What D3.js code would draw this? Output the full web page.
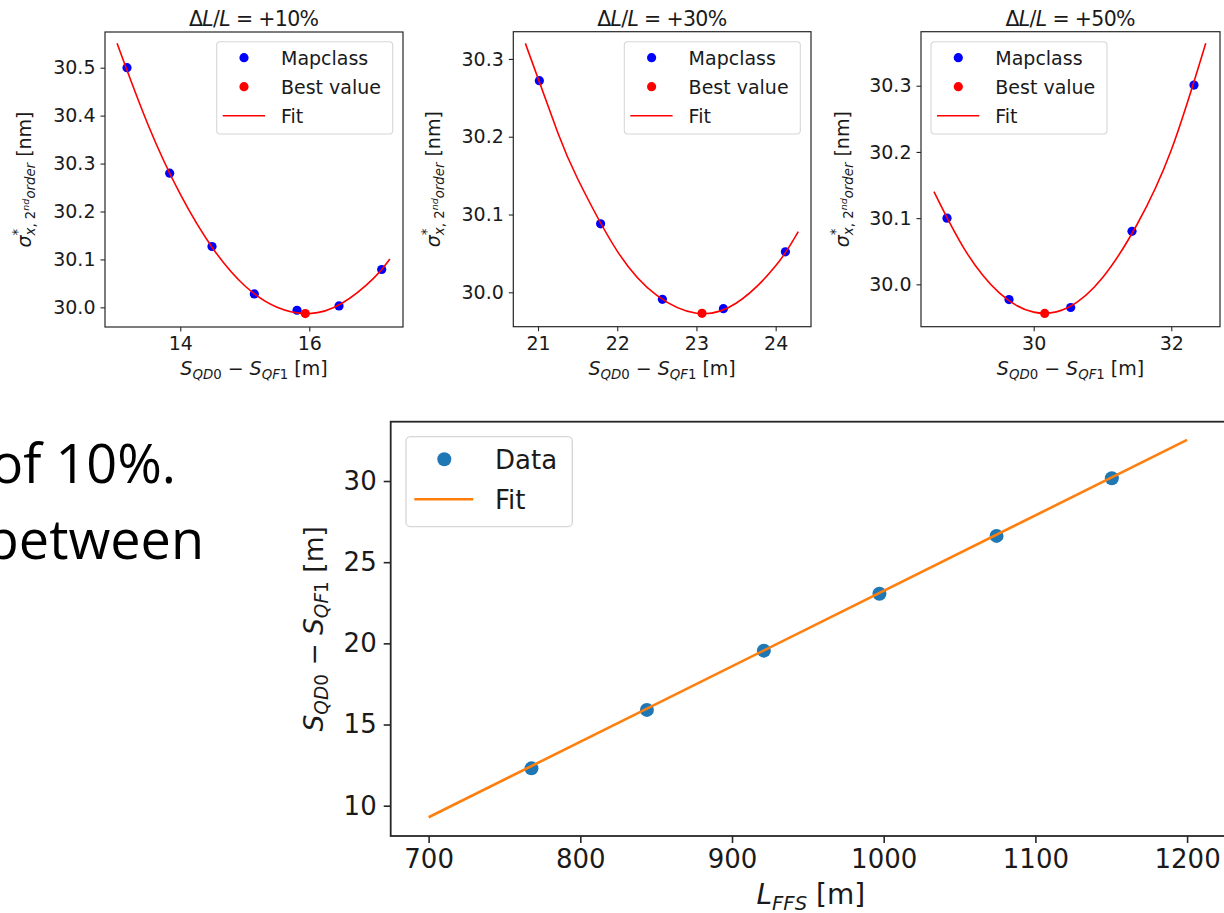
<!DOCTYPE html>
<html><head><meta charset="utf-8">
<script src="https://cdn.jsdelivr.net/npm/d3@7"></script>
<style>html,body{margin:0;padding:0;background:#fff;overflow:hidden}svg{display:block}</style>
</head><body>
<svg id="c" width="1224" height="913"></svg>
<script>
// ---------- data ----------
const titles = ["+10%", "+30%", "+50%"];

const p1X = [13.174, 13.836, 14.492, 15.148, 15.81, 16.461, 17.123];
const p1Y = [30.500, 30.280, 30.127, 30.028, 29.994, 30.003, 30.079];
const p1Best = [15.938, 29.987];
const p1FitX = [13.02, 13.5, 14.0, 14.5, 15.0, 15.5, 16.0, 16.5, 17.0, 17.25];
const p1FitY = [30.551, 30.381, 30.236, 30.124, 30.045, 30.000, 29.987, 30.008, 30.061, 30.101];
const p1XTicks = [14, 16];
const p1YTicks = [30.0, 30.1, 30.2, 30.3, 30.4, 30.5];

const p2X = [21.017, 21.79, 22.57, 23.34, 24.123];
const p2Y = [30.272, 30.088, 29.991, 29.979, 30.052];
const p2Best = [23.07, 29.973];
const p2FitX = [20.84, 21.25, 21.5, 22.0, 22.5, 23.0, 23.5, 24.0, 24.285];
const p2FitY = [30.320, 30.205, 30.146, 30.053, 29.996, 29.973, 29.986, 30.034, 30.078];
const p2XTicks = [21, 22, 23, 24];
const p2YTicks = [30.0, 30.1, 30.2, 30.3];

const p3X = [28.74, 29.641, 30.538, 31.429, 32.33];
const p3Y = [30.100, 29.977, 29.965, 30.080, 30.301];
const p3Best = [30.16, 29.956];
const p3FitX = [28.55, 29.0, 29.5, 30.0, 30.5, 31.0, 31.5, 32.0, 32.5];
const p3FitY = [30.140, 30.052, 29.987, 29.958, 29.965, 30.010, 30.090, 30.203, 30.364];
const p3XTicks = [30, 32];
const p3YTicks = [30.0, 30.1, 30.2, 30.3];

const lffs = [767.8, 843.9, 921, 997.2, 1074.4, 1150.4];
const sDiff = [12.30, 15.90, 19.55, 23.06, 26.62, 30.17];
const fitL = [700, 1200];
const fitS = [9.29, 32.53];
const bXTicks = [700, 800, 900, 1000, 1100, 1200];
const bYTicks = [10, 15, 20, 25, 30];

const topLegend = ["Mapclass", "Best value", "Fit"];
const botLegend = ["Data", "Fit"];
const slideLines = ["of 10%.", "between"];

// ---------- layout ----------
const svg = d3.select("#c");
const FONT = "DejaVu Sans";
const AX = "#262626";

function rich(text, parts, size) {
  let cur = 0;
  parts.forEach(p => {
    const s = size * (p.s || 1);
    const o = (p.o || 0) * size;
    const ts = text.append("tspan").text(p.t)
      .attr("font-size", s)
      .attr("dy", cur - o);
    if (p.dx) ts.attr("dx", p.dx);
    if (p.it) ts.attr("font-style", "italic");
    cur = o;
  });
  return text;
}

function textWidth(str, size, italic) {
  const t = svg.append("text").attr("font-family", FONT).attr("font-size", size)
    .attr("font-style", italic ? "italic" : "normal").text(str);
  const w = t.node().getComputedTextLength();
  t.remove();
  return w;
}

const topPanels = [
  {box:{l:105, r:403, t:32, b:327}, xd:[12.833, 17.453], yd:[29.959, 30.5745],
   X:p1X, Y:p1Y, best:p1Best, fx:p1FitX, fy:p1FitY, xt:p1XTicks, yt:p1YTicks,
   legX:216.7, ylabX:31},
  {box:{l:513.3, r:811, t:31.7, b:326.7}, xd:[20.688, 24.446], yd:[29.9558, 30.335],
   X:p2X, Y:p2Y, best:p2Best, fx:p2FitX, fy:p2FitY, xt:p2XTicks, yt:p2YTicks,
   legX:624.3, ylabX:440},
  {box:{l:921, r:1220, t:31.7, b:326.7}, xd:[28.362, 32.708], yd:[29.936, 30.3816],
   X:p3X, Y:p3Y, best:p3Best, fx:p3FitX, fy:p3FitY, xt:p3XTicks, yt:p3YTicks,
   legX:931, ylabX:849}
];

const FS = 19;
topPanels.forEach((p, i) => {
  const b = p.box;
  const x = d3.scaleLinear().domain(p.xd).range([b.l, b.r]);
  const y = d3.scaleLinear().domain(p.yd).range([b.b, b.t]);
  const g = svg.append("g");

  // axes
  const xa = g.append("g").attr("transform", `translate(0,${b.b})`)
    .call(d3.axisBottom(x).tickValues(p.xt).tickFormat(d3.format("d")).tickSize(4.5).tickPadding(5));
  const ya = g.append("g").attr("transform", `translate(${b.l},0)`)
    .call(d3.axisLeft(y).tickValues(p.yt).tickFormat(d3.format(".1f")).tickSize(4.5).tickPadding(5));
  [xa, ya].forEach(a => {
    a.select(".domain").remove();
    a.selectAll("line").attr("stroke", AX).attr("stroke-width", 1.1);
    a.selectAll("text").attr("font-family", FONT).attr("font-size", FS).attr("fill", "#1a1a1a");
  });
  g.append("rect").attr("x", b.l).attr("y", b.t).attr("width", b.r - b.l).attr("height", b.b - b.t)
    .attr("fill", "none").attr("stroke", AX).attr("stroke-width", 1.2);

  // marks
  g.selectAll(".m").data(p.X.map((v, k) => [v, p.Y[k]])).enter().append("circle")
    .attr("cx", d => x(d[0])).attr("cy", d => y(d[1])).attr("r", 4.6).attr("fill", "#0000ff");
  g.append("circle").attr("cx", x(p.best[0])).attr("cy", y(p.best[1])).attr("r", 4.6).attr("fill", "#ff0000");
  const line = d3.line().x(d => x(d[0])).y(d => y(d[1])).curve(d3.curveNatural);
  g.append("path").attr("d", line(p.fx.map((v, k) => [v, p.fy[k]])))
    .attr("fill", "none").attr("stroke", "#ff0000").attr("stroke-width", 1.6);

  // legend
  const lx = p.legX, ly = 41.7;
  g.append("rect").attr("x", lx).attr("y", ly).attr("width", 176).attr("height", 92.3).attr("rx", 3.5)
    .attr("fill", "#fff").attr("fill-opacity", 0.8).attr("stroke", "#d6d6d6").attr("stroke-width", 1.1);
  const rows = [57.7, 86.7, 115.7];
  g.append("circle").attr("cx", lx + 27.3).attr("cy", rows[0]).attr("r", 4.6).attr("fill", "#0000ff");
  g.append("circle").attr("cx", lx + 27.3).attr("cy", rows[1]).attr("r", 4.6).attr("fill", "#ff0000");
  g.append("line").attr("x1", lx + 6).attr("x2", lx + 48.3).attr("y1", rows[2]).attr("y2", rows[2])
    .attr("stroke", "#ff0000").attr("stroke-width", 1.6);
  topLegend.forEach((t, k) => {
    g.append("text").attr("x", lx + 64.3).attr("y", rows[k]).attr("dy", "0.36em")
      .attr("font-family", FONT).attr("font-size", FS).attr("fill", "#1a1a1a").text(t);
  });

  // title
  const tt = g.append("text").attr("x", (b.l + b.r) / 2).attr("y", 26).attr("text-anchor", "middle")
    .attr("font-family", FONT).attr("fill", "#1a1a1a")
    .attr("textLength", 130).attr("lengthAdjust", "spacing");
  rich(tt, [{t:"Δ"}, {t:"L", it:1}, {t:"/"}, {t:"L", it:1}, {t:" = " + titles[i]}], 20.5);

  // x label
  const xl = g.append("text").attr("x", (b.l + b.r) / 2).attr("y", 375).attr("text-anchor", "middle")
    .attr("font-family", FONT).attr("fill", "#1a1a1a");
  rich(xl, [{t:"S", it:1}, {t:"QD", it:1, s:0.7, o:-0.2}, {t:"0", s:0.7, o:-0.2},
            {t:" − "}, {t:"S", it:1}, {t:"QF", it:1, s:0.7, o:-0.2}, {t:"1", s:0.7, o:-0.2}, {t:" [m]"}], FS);

  // y label
  const starW = textWidth("*", FS * 0.7, false);
  const yl = g.append("text").attr("transform", `translate(${p.ylabX},${(b.t + b.b) / 2}) rotate(-90)`)
    .attr("text-anchor", "middle").attr("font-family", FONT).attr("fill", "#1a1a1a");
  rich(yl, [{t:"σ", it:1}, {t:"*", s:0.7, o:0.45},
            {t:"x", it:1, s:0.7, o:-0.22, dx:-starW}, {t:", 2", s:0.7, o:-0.22},
            {t:"nd", it:1, s:0.5, o:0.12}, {t:"order", it:1, s:0.7, o:-0.22}, {t:" [nm]"}], FS);
});

// ---------- bottom chart ----------
const BF = 26;
const bb = {l:390.7, r:1225, t:421.7, b:836};
const bx = d3.scaleLinear().domain([675, 1225]).range([bb.l, bb.r]);
const by = d3.scaleLinear().domain([8.133, 33.654]).range([bb.b, bb.t]);
const gb = svg.append("g");
const bxa = gb.append("g").attr("transform", `translate(0,${bb.b})`)
  .call(d3.axisBottom(bx).tickValues(bXTicks).tickFormat(d3.format("d")).tickSize(7).tickPadding(7));
const bya = gb.append("g").attr("transform", `translate(${bb.l},0)`)
  .call(d3.axisLeft(by).tickValues(bYTicks).tickFormat(d3.format("d")).tickSize(7).tickPadding(7));
[bxa, bya].forEach(a => {
  a.select(".domain").remove();
  a.selectAll("line").attr("stroke", AX).attr("stroke-width", 1.6);
  a.selectAll("text").attr("font-family", FONT).attr("font-size", BF).attr("fill", "#1a1a1a");
});
gb.append("rect").attr("x", bb.l).attr("y", bb.t).attr("width", bb.r - bb.l).attr("height", bb.b - bb.t)
  .attr("fill", "none").attr("stroke", AX).attr("stroke-width", 1.8);

gb.selectAll(".d").data(lffs.map((v, k) => [v, sDiff[k]])).enter().append("circle")
  .attr("cx", d => bx(d[0])).attr("cy", d => by(d[1])).attr("r", 7).attr("fill", "#1f77b4");
gb.append("path").attr("d", d3.line().x(d => bx(d[0])).y(d => by(d[1]))(fitL.map((v, k) => [v, fitS[k]])))
  .attr("fill", "none").attr("stroke", "#ff7f0e").attr("stroke-width", 2.6);

// legend
gb.append("rect").attr("x", 406).attr("y", 436.7).attr("width", 166.3).attr("height", 90).attr("rx", 4.5)
  .attr("fill", "#fff").attr("fill-opacity", 0.8).attr("stroke", "#d6d6d6").attr("stroke-width", 1.3);
gb.append("circle").attr("cx", 444.3).attr("cy", 459.3).attr("r", 7).attr("fill", "#1f77b4");
gb.append("line").attr("x1", 414.3).attr("x2", 473.3).attr("y1", 499.3).attr("y2", 499.3)
  .attr("stroke", "#ff7f0e").attr("stroke-width", 2.6);
botLegend.forEach((t, k) => {
  gb.append("text").attr("x", 495).attr("y", [459.3, 499.3][k]).attr("dy", "0.36em")
    .attr("font-family", FONT).attr("font-size", BF).attr("fill", "#1a1a1a").text(t);
});

// labels
const bxl = gb.append("text").attr("x", 810.8).attr("y", 904).attr("text-anchor", "middle")
  .attr("font-family", FONT).attr("fill", "#1a1a1a");
rich(bxl, [{t:"L", it:1}, {t:"FFS", it:1, s:0.7, o:-0.2}, {t:" [m]"}], 28);
const byl = gb.append("text").attr("transform", `translate(323,${(bb.t + bb.b) / 2}) rotate(-90)`)
  .attr("text-anchor", "middle").attr("font-family", FONT).attr("fill", "#1a1a1a");
rich(byl, [{t:"S", it:1}, {t:"QD", it:1, s:0.7, o:-0.2}, {t:"0", s:0.7, o:-0.2},
           {t:" − "}, {t:"S", it:1}, {t:"QF", it:1, s:0.7, o:-0.2}, {t:"1", s:0.7, o:-0.2}, {t:" [m]"}], 26.5);

// slide text (cut off at left, as on the slide)
svg.append("text").attr("x", 176).attr("y", 483).attr("text-anchor", "end")
  .attr("font-family", "Open Sans").attr("font-size", 54).attr("fill", "#000").text(slideLines[0]);
svg.append("text").attr("x", 204).attr("y", 559).attr("text-anchor", "end")
  .attr("font-family", "Open Sans").attr("font-size", 54).attr("fill", "#000").text(slideLines[1]);
</script>
</body></html>
